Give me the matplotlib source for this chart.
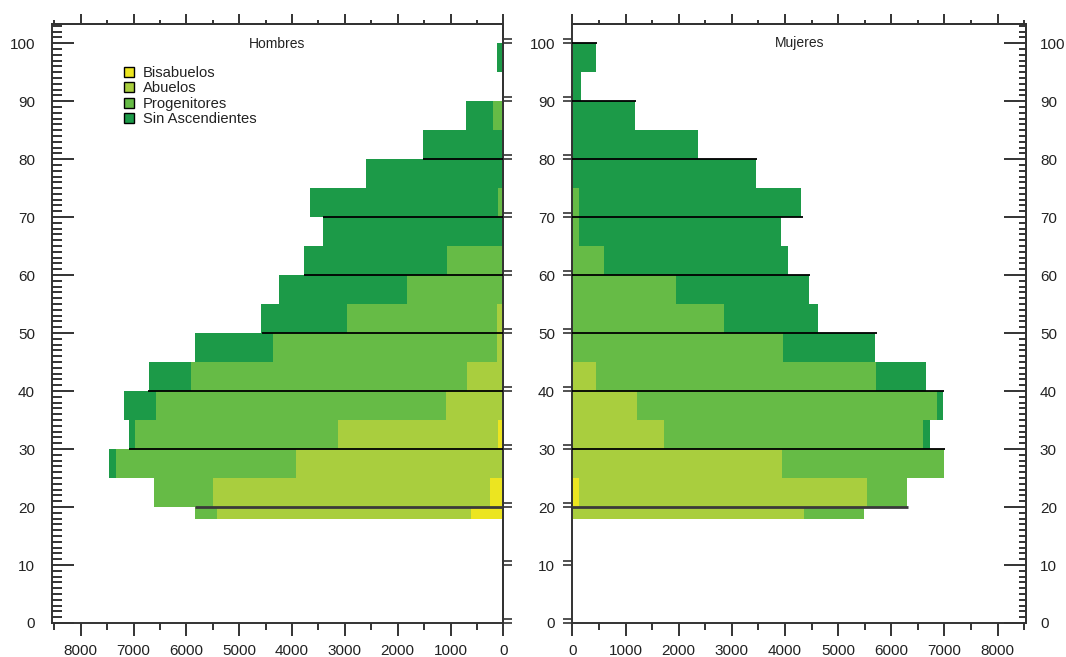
import matplotlib
matplotlib.use("Agg")
import matplotlib.pyplot as plt
from matplotlib.patches import Patch
from matplotlib.ticker import MultipleLocator, FixedLocator, NullFormatter

plt.rcParams['font.family'] = ['Liberation Sans', 'DejaVu Sans']

# age groups (lower / upper edge)
age_lo = [18, 20, 25, 30, 35, 40, 45, 50, 55, 60, 65, 70, 75, 80, 85, 90, 95]
age_hi = [20, 25, 30, 35, 40, 45, 50, 55, 60, 65, 70, 75, 80, 85, 90, 95, 100]

categories = ['Bisabuelos', 'Abuelos', 'Progenitores', 'Sin Ascendientes']
colors = ['#ECE520', '#A9CE3E', '#66BB46', '#1C9A48']

# Hombres
h_bis = [620, 250, 0, 100, 0, 0, 0, 0, 0, 0, 0, 0, 0, 0, 0, 0, 0]
h_abu = [4810, 5250, 3920, 3040, 1090, 680, 130, 130, 0, 0, 0, 0, 0, 0, 0, 0, 0]
h_pro = [410, 1110, 3410, 3840, 5480, 5230, 4230, 2830, 1830, 1060, 0, 100, 0, 0, 190, 0, 0]
h_sin = [0, 0, 130, 110, 610, 800, 1480, 1620, 2410, 2710, 3410, 3560, 2600, 1520, 520, 0, 130]

# Mujeres
m_bis = [0, 130, 0, 0, 0, 0, 0, 0, 0, 0, 0, 0, 0, 0, 0, 0, 0]
m_abu = [4350, 5410, 3940, 1720, 1220, 440, 0, 0, 0, 0, 0, 0, 0, 0, 0, 0, 0]
m_pro = [1140, 750, 3050, 4870, 5640, 5270, 3960, 2850, 1940, 590, 130, 130, 0, 0, 0, 0, 0]
m_sin = [0, 0, 0, 140, 110, 950, 1740, 1780, 2510, 3460, 3800, 4170, 3450, 2370, 1170, 160, 440]

# horizontal separator lines (age, length)
h_line_age = [20, 30, 40, 50, 60, 70, 80]
h_line_len = [5840, 7090, 6720, 4570, 3770, 3410, 1520]
m_line_age = [20, 30, 40, 50, 60, 70, 80, 90, 100]
m_line_len = [6310, 7020, 6990, 5740, 4480, 4330, 3470, 1190, 460]

xmax = 8550
ytop = 103.3
spine_c = '#333333'
txt_c = '#222222'

fig = plt.figure(figsize=(10.66, 6.57), dpi=100)
ax1 = fig.add_axes([51.7 / 1066, 34 / 657, 451.7 / 1066, 599 / 657])
ax2 = fig.add_axes([572.4 / 1066, 34 / 657, 453.6 / 1066, 599 / 657])

heights = [hi - lo for lo, hi in zip(age_lo, age_hi)]


def stack(ax, series):
    left = [0] * len(age_lo)
    for vals, c in zip(series, colors):
        ax.barh(age_lo, vals, height=heights, left=left, align='edge',
                color=c, edgecolor='none', linewidth=0)
        left = [a + b for a, b in zip(left, vals)]


stack(ax1, [h_bis, h_abu, h_pro, h_sin])
stack(ax2, [m_bis, m_abu, m_pro, m_sin])

for ax, ages, lens in [(ax1, h_line_age, h_line_len), (ax2, m_line_age, m_line_len)]:
    for a, l in zip(ages, lens):
        if a == 20:
            ax.hlines(a, 0, l, color='#3a3a3a', lw=2.0, zorder=3)
        else:
            ax.hlines(a, 0, l, color='black', lw=1.3, zorder=3)

ax1.set_xlim(xmax, 0)
ax2.set_xlim(0, 8535)
for ax in (ax1, ax2):
    ax.set_ylim(0, ytop)
    for s in ax.spines.values():
        s.set_color(spine_c)
        s.set_linewidth(1.4)
    ax.xaxis.set_major_locator(MultipleLocator(1000))
    ax.xaxis.set_minor_locator(MultipleLocator(500))
    ax.tick_params(axis='x', which='major', direction='out', length=9, width=1.4,
                   color=spine_c, labelsize=11, labelcolor=txt_c, pad=6)
    ax.tick_params(axis='x', which='minor', direction='out', length=5, width=1.4,
                   color=spine_c)
    top = ax.secondary_xaxis('top')
    top.xaxis.set_major_locator(MultipleLocator(1000))
    top.xaxis.set_minor_locator(MultipleLocator(500))
    top.xaxis.set_major_formatter(NullFormatter())
    top.tick_params(axis='x', which='major', direction='out', length=7, width=1.4, color=spine_c)
    top.tick_params(axis='x', which='minor', direction='out', length=3, width=1.4, color=spine_c)
    top.spines['top'].set_color(spine_c)
    top.spines['top'].set_linewidth(1.4)

decades = list(range(0, 101, 10))
doubles = decades + [d + 0.7 for d in decades]

# left panel: inner ticks on the left, double outward ticks on the right
ax1.yaxis.set_major_locator(FixedLocator(decades))
ax1.yaxis.set_minor_locator(MultipleLocator(1))
ax1.tick_params(axis='y', which='major', direction='in', length=16, width=1.4,
                color=spine_c, labelsize=11, labelcolor=txt_c, pad=12)
ax1.tick_params(axis='y', which='minor', direction='in', length=7, width=1.4, color=spine_c)
r1 = ax1.secondary_yaxis('right')
r1.yaxis.set_major_locator(FixedLocator(doubles))
r1.yaxis.set_major_formatter(NullFormatter())
r1.tick_params(axis='y', direction='out', length=6.5, width=1.2, color=spine_c)
r1.spines['right'].set_color(spine_c)
r1.spines['right'].set_linewidth(1.4)

# right panel: double outward ticks on the left, inner ticks on the right
ax2.yaxis.set_major_locator(FixedLocator(decades))
ax2.yaxis.set_minor_locator(FixedLocator([d + 0.7 for d in decades]))
ax2.tick_params(axis='y', which='major', direction='out', length=6.5, width=1.2,
                color=spine_c, labelsize=11, labelcolor=txt_c, pad=6)
ax2.tick_params(axis='y', which='minor', direction='out', length=6.5, width=1.2, color=spine_c)
r2 = ax2.secondary_yaxis('right')
r2.yaxis.set_major_locator(FixedLocator(decades))
r2.yaxis.set_minor_locator(MultipleLocator(1))
r2.tick_params(axis='y', which='major', direction='in', length=16, width=1.4,
               color=spine_c, labelsize=11, labelcolor=txt_c, pad=10)
r2.tick_params(axis='y', which='minor', direction='in', length=5, width=1.4, color=spine_c)
r2.spines['right'].set_color(spine_c)
r2.spines['right'].set_linewidth(1.4)

ax1.text(0.5, 0.966, 'Hombres', transform=ax1.transAxes, ha='center', va='center',
         fontsize=10, color=txt_c)
ax2.text(0.5, 0.969, 'Mujeres', transform=ax2.transAxes, ha='center', va='center',
         fontsize=10, color=txt_c)

handles = [Patch(facecolor=c, edgecolor='black', linewidth=1.0) for c in colors]
ax1.legend(handles, categories, loc='upper left', bbox_to_anchor=(0.16, 0.930),
           frameon=False, fontsize=10.6, handlelength=0.66, handleheight=0.66,
           handletextpad=0.6, labelspacing=0.1, borderpad=0, borderaxespad=0,
           labelcolor=txt_c)

fig.savefig('out.png', dpi=100)
